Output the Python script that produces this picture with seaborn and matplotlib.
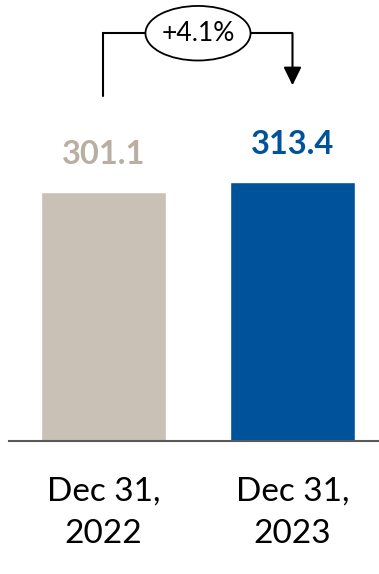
import matplotlib
matplotlib.use("Agg")
import matplotlib.pyplot as plt
from matplotlib.patches import Ellipse
import seaborn as sns
import pandas as pd

categories = ["Dec 31,\n2022", "Dec 31,\n2023"]
values = [301.1, 313.4]
value_labels = ["301.1", "313.4"]
bar_colors = ["#C9C1B6", "#00529B"]
label_colors = ["#B8AFA2", "#00529B"]
change_label = "+4.1%"

sns.set_theme(style="white")
plt.rcParams["font.family"] = ["Lato", "DejaVu Sans"]

fig = plt.figure(figsize=(3.79, 5.74), dpi=100)
ax = fig.add_axes([9 / 379, (574 - 440.7) / 574, 370 / 379, 440.7 / 574])

df = pd.DataFrame({"cat": categories, "val": values})
sns.barplot(data=df, x="cat", y="val", hue="cat", palette=bar_colors,
            width=0.661, legend=False, ax=ax, saturation=1)

ax.set_xlim(-0.5, 1.4577)
ax.set_ylim(0, 533.2)
ax.set_xlabel("")
ax.set_ylabel("")
ax.set_yticks([])
for s in ["top", "right", "left"]:
    ax.spines[s].set_visible(False)
ax.spines["bottom"].set_color("#595959")
ax.spines["bottom"].set_linewidth(1.5)
ax.tick_params(axis="x", length=0, pad=26, labelsize=24, labelcolor="black")
for t in ax.get_xticklabels():
    t.set_linespacing(1.5)

for i, (v, lab, c) in enumerate(zip(values, value_labels, label_colors)):
    ax.annotate(lab, xy=(i, v), xytext=(0, 20), textcoords="offset points",
                ha="center", va="baseline", fontsize=23.5, fontweight="bold", color=c)

# change bracket
y_top = 493
y_left_start = 417
y_arrow_tip = 430
ax.plot([0, 0, 1], [y_left_start, y_top, y_top], color="black", lw=1.5,
        solid_joinstyle="miter", zorder=3)
ax.annotate("", xy=(1, y_arrow_tip), xytext=(1, y_top),
            arrowprops=dict(arrowstyle="-|>,head_length=1.1,head_width=0.54",
                            mutation_scale=10, color="black", lw=1.5,
                            shrinkA=0, shrinkB=0), zorder=3)
ell = Ellipse((0.5, y_top), width=0.556, height=66, facecolor="white",
              edgecolor="black", lw=1.3, zorder=4, clip_on=False)
ax.add_patch(ell)
ax.text(0.5, y_top, change_label, ha="center", va="center", fontsize=19,
        color="black", zorder=5)

fig.savefig("out.png", dpi=100)
